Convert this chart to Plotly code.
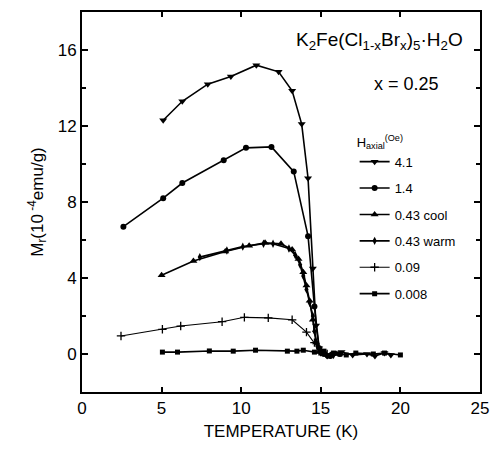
import plotly.graph_objects as go

# ---- data ----
x_41 = [5.1, 6.3, 7.9, 9.35, 10.95, 12.35, 13.2, 13.8, 14.2, 14.5, 14.7, 14.9, 15.1, 15.4, 15.8, 16.3, 17.0, 17.9, 18.4, 19.0, 19.4]
y_41 = [12.3, 13.3, 14.2, 14.6, 15.2, 14.85, 13.85, 12.1, 9.25, 4.5, 1.5, 0.3, 0.05, -0.1, 0.0, 0.1, -0.05, 0.0, -0.1, 0.05, -0.05]

x_14 = [2.6, 5.1, 6.3, 8.9, 10.3, 11.9, 13.3, 14.2, 14.6, 14.9, 15.2, 15.6, 16.2]
y_14 = [6.7, 8.2, 9.0, 10.2, 10.85, 10.9, 9.6, 6.2, 2.5, 0.3, 0.0, -0.1, 0.0]

x_043c = [5.0, 7.0, 9.0, 10.5, 11.5, 12.5, 13.2, 13.6, 13.9, 14.1, 14.3, 14.5, 14.7, 14.9, 15.2, 15.6, 16.0]
y_043c = [4.15, 4.9, 5.4, 5.7, 5.85, 5.8, 5.5, 5.0, 4.3, 3.6, 2.8, 1.8, 0.6, 0.1, 0.0, -0.05, 0.0]

x_043w = [7.4, 9.1, 10.1, 11.4, 12.0, 13.0, 13.4, 13.7, 13.9, 14.1, 14.3, 14.5, 14.6, 14.8, 15.0, 15.3, 15.8]
y_043w = [5.1, 5.45, 5.65, 5.8, 5.8, 5.55, 5.2, 4.7, 4.1, 3.4, 2.7, 2.0, 1.2, 0.4, 0.1, 0.0, -0.05]

x_009 = [2.45, 5.05, 6.2, 8.8, 10.2, 11.7, 13.2, 14.1, 14.6, 15.0, 15.4]
y_009 = [0.95, 1.3, 1.47, 1.7, 1.93, 1.9, 1.8, 1.15, 0.6, 0.1, 0.0]

x_0008 = [5.05, 6.0, 8.0, 9.5, 10.9, 12.9, 13.5, 13.9, 14.6, 15.0, 15.2, 15.5, 15.8, 16.2, 16.6, 17.2, 18.3, 19.0, 20.0]
y_0008 = [0.1, 0.1, 0.16, 0.15, 0.2, 0.15, 0.15, 0.2, 0.1, 0.05, 0.15, -0.1, 0.05, 0.0, -0.05, 0.05, 0.0, 0.05, -0.05]

x_ticks = [0, 5, 10, 15, 20, 25]
y_ticks = [0, 4, 8, 12, 16]

FONT = "Liberation Sans, Arial, sans-serif"

series = [
    ("4.1", x_41, y_41, "triangle-down", 7, 1.6),
    ("1.4", x_14, y_14, "circle", 6, 1.6),
    ("0.43 cool", x_043c, y_043c, "triangle-up", 7, 1.6),
    ("0.43 warm", x_043w, y_043w, "diamond-tall", 6, 1.6),
    ("0.09", x_009, y_009, "cross-thin", 6, 1.1),
    ("0.008", x_0008, y_0008, "square", 5, 1.6),
]

fig = go.Figure()
for i, (name, xs, ys, sym, sz, lw) in enumerate(series):
    fig.add_trace(go.Scatter(
        x=xs, y=ys, mode="lines+markers", name=name, legendgroup=f"g{i}",
        line=dict(color="black", width=lw),
        marker=dict(symbol=sym, size=sz, color="black",
                    line=dict(color="black", width=1.3 if sym == "cross-thin" else 0)),
    ))

fig.add_annotation(x=18.7, y=16.45, xref="x", yref="y", showarrow=False,
                   text="K<sub>2</sub>Fe(Cl<sub>1-x</sub>Br<sub>x</sub>)<sub>5</sub>·H<sub>2</sub>O",
                   font=dict(family=FONT, size=19, color="black"))
fig.add_annotation(x=20.4, y=14.2, xref="x", yref="y", showarrow=False,
                   text="x = 0.25", font=dict(family=FONT, size=18, color="black"))

axis_common = dict(showline=True, linecolor="black", linewidth=2, mirror="ticks",
                   ticks="inside", tickcolor="black", showgrid=False, zeroline=False,
                   tickfont=dict(family=FONT, size=17, color="black"))

fig.update_xaxes(range=[0, 25], tickvals=x_ticks, ticklen=5, tickwidth=1.5,
                 title=dict(text="TEMPERATURE (K)", font=dict(family=FONT, size=17, color="black"),
                            standoff=8),
                 **axis_common)
fig.update_yaxes(range=[-2, 18], tickvals=y_ticks, ticklen=6, tickwidth=1.5,
                 minor=dict(tickvals=[-2, 2, 6, 10, 14, 18], ticks="inside", ticklen=4,
                            tickcolor="black"),
                 title=dict(text="M<sub>r</sub>(10<sup> -4</sup>emu/g)",
                            font=dict(family=FONT, size=17, color="black"), standoff=10),
                 **axis_common)

fig.update_layout(
    width=499, height=449,
    margin=dict(l=82, r=10, t=11, b=57),
    paper_bgcolor="white", plot_bgcolor="white",
    font=dict(family=FONT, color="black"),
    legend=dict(x=0.685, y=0.69, xanchor="left", yanchor="top",
                bgcolor="rgba(0,0,0,0)", tracegroupgap=6.5,
                font=dict(family=FONT, size=13, color="black"),
                title=dict(text="H<sub>axial</sub><sup>(Oe)</sup>",
                           font=dict(family=FONT, size=13, color="black"), side="top"),
                itemwidth=30),
)

fig.write_html("out.html")
